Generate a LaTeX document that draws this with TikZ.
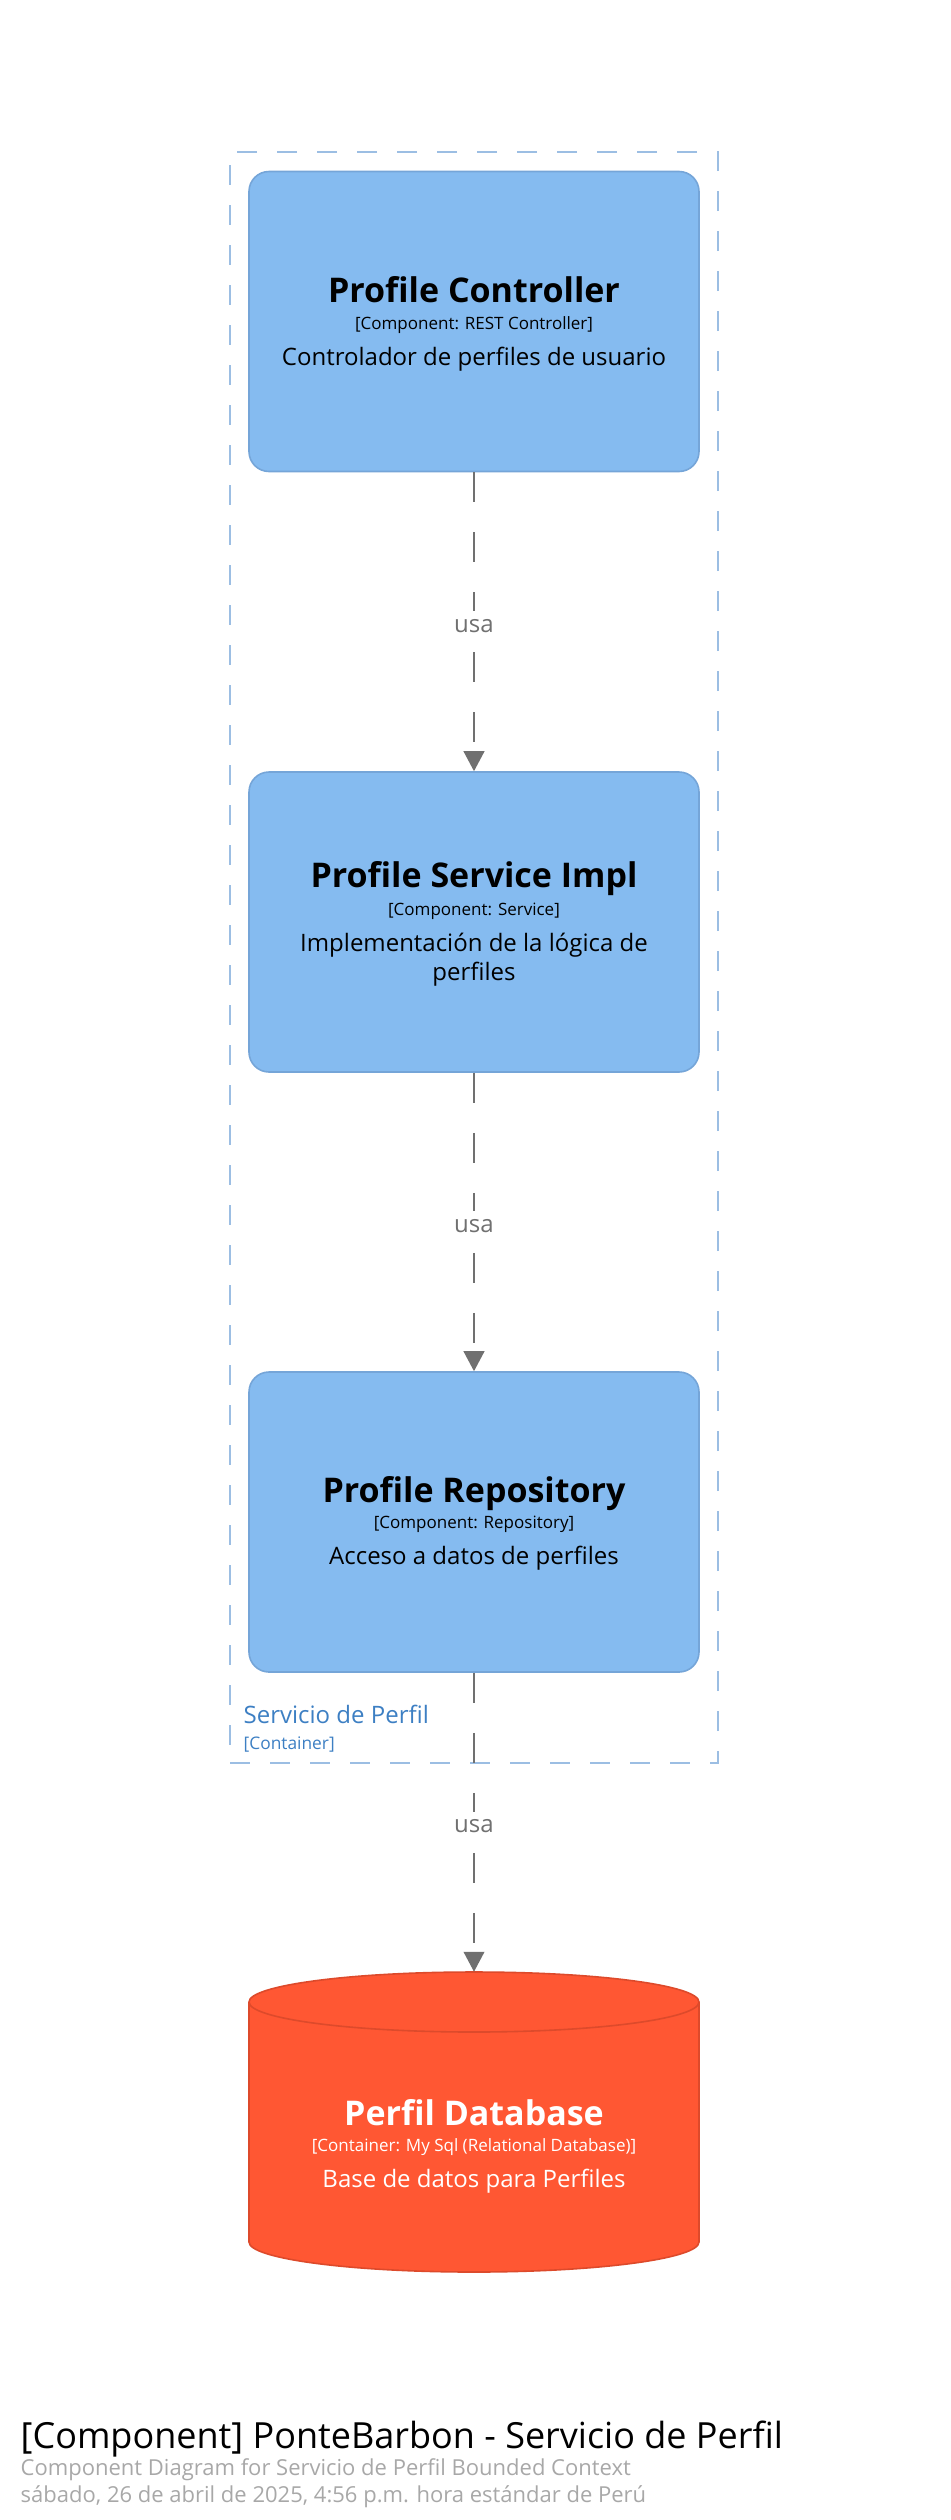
\documentclass[tikz,border=0pt]{standalone}
\usepackage{fontspec}
\setmainfont{Open Sans}
\usetikzlibrary{arrows.meta}

\definecolor{compblue}{HTML}{85BBF0}
\definecolor{compedge}{HTML}{75A5D8}
\definecolor{boundedge}{HTML}{9CBEE3}
\definecolor{boundtext}{HTML}{3D7FC3}
\definecolor{relgray}{HTML}{707070}
\definecolor{dbred}{HTML}{FF5733}
\definecolor{dbedge}{HTML}{DD4A2B}
\definecolor{footgray}{HTML}{A8A8A8}

\tikzset{
  compbox/.style={draw=compedge, line width=1.2pt, fill=compblue, rounded corners=15pt, minimum width=337.5pt, minimum height=225pt, inner sep=0pt},
  boundbox/.style={draw=boundedge, line width=1.5pt, dash pattern=on 15pt off 15pt, minimum width=366pt, minimum height=1208.25pt, inner sep=0pt},
  dbbody/.style={draw=dbedge, line width=1.2pt, fill=dbred},
  uses/.style={draw=relgray, line width=1.5pt, dash pattern=on 22.5pt off 22.5pt, -{Triangle[length=15pt,width=15.5pt]}},
  usalabel/.style={fill=white, text=relgray, font=\fontsize{18}{22}\selectfont, inner sep=6pt, yshift=-3pt},
  nametext/.style={anchor=base, font=\fontsize{25.5}{30}\selectfont\bfseries},
  techtext/.style={anchor=base, font=\fontsize{12.75}{15}\selectfont},
  desctext/.style={anchor=base, font=\fontsize{18}{22}\selectfont},
}

\begin{document}
\begin{tikzpicture}[x=0.75pt,y=0.75pt,yscale=-1,xscale=1]
\useasboundingbox (0,0) rectangle (950,2520);

%Shape: Container boundary
\node[boundbox] (svcbound) at (474,957.5) {};
% Text Node
\node[anchor=base west, text=boundtext, font=\fontsize{18}{22}\selectfont] (boundname) at (239,1723.5) {Servicio de Perfil};
% Text Node
\node[anchor=base west, text=boundtext, font=\fontsize{13}{15}\selectfont] (boundtype) at (239,1749) {[Container]};

%Shape: Rounded Rectangle
\node[compbox] (ctrl) at (474,321.5) {};
% Text Node
\node[nametext] (ctrlname) at (474,302) {Profile Controller};
\node[techtext] (ctrltech) at (474,329) {[Component: REST Controller]};
\node[desctext] (ctrldesc) at (474,365.5) {Controlador de perfiles de usuario};

%Shape: Rounded Rectangle
\node[compbox] (svc) at (474,922) {};
% Text Node
\node[nametext] (svcname) at (474,887) {Profile Service Impl};
\node[techtext] (svctech) at (474,915) {[Component: Service]};
\node[desctext] (svcdesc) at (474,951.5) {Implementación de la lógica de};
\node[desctext] (svcdesc2) at (474,980) {perfiles};

%Shape: Rounded Rectangle
\node[compbox] (repo) at (474,1522) {};
% Text Node
\node[nametext] (reponame) at (474,1502) {Profile Repository};
\node[techtext] (repotech) at (474,1528) {[Component: Repository]};
\node[desctext] (repodesc) at (474,1564.5) {Acceso a datos de perfiles};

%Shape: Cylinder
\node[minimum width=337.5pt, minimum height=225pt, inner sep=0pt] (db) at (474,2122) {};
\draw[dbbody] (249,2002) -- (249,2242) arc[start angle=180, end angle=0, x radius=225, y radius=30] -- (699,2002) arc[start angle=0, end angle=-180, x radius=225, y radius=30] -- cycle;
\draw[draw=dbedge, line width=1.2pt] (249,2002) arc[start angle=180, end angle=0, x radius=225, y radius=30];
% Text Node
\node[nametext, text=white] (dbname) at (474,2125) {Perfil Database};
\node[techtext, text=white] (dbtech) at (474,2151) {[Container: My Sql (Relational Database)]};
\node[desctext, text=white] (dbdesc) at (474,2187.5) {Base de datos para Perfiles};

%Straight Lines
\draw[uses] (ctrl) -- node[usalabel] (use1) {usa} (svc);
\draw[uses] (svc) -- node[usalabel] (use2) {usa} (repo);
\draw[uses] (repo) -- node[usalabel] (use3) {usa} (db);

% Text Node
\node[anchor=base west, font=\fontsize{27}{32}\selectfont] (foottitle) at (16,2448) {[Component] PonteBarbon - Servicio de Perfil};
\node[anchor=base west, text=footgray, font=\fontsize{16.5}{20}\selectfont] (footsub) at (16,2475.5) {Component Diagram for Servicio de Perfil Bounded Context};
\node[anchor=base west, text=footgray, font=\fontsize{16.5}{20}\selectfont] (footdate) at (16,2502.5) {sábado, 26 de abril de 2025, 4:56 p.m. hora estándar de Perú};

\end{tikzpicture}
\end{document}
